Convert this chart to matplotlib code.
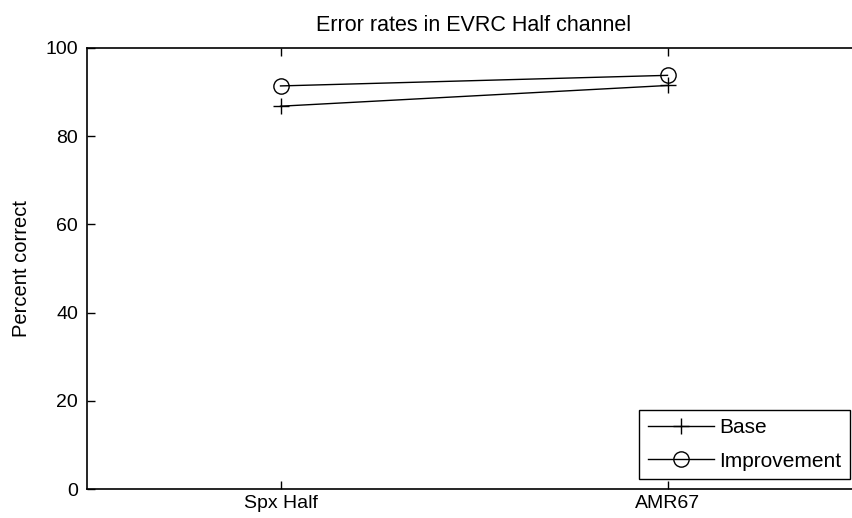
import matplotlib
matplotlib.use("Agg")
import matplotlib.pyplot as plt

categories = ["Spx Half", "AMR67"]
base = [86.8, 91.5]
improvement = [91.4, 93.8]
y_ticks = [0, 20, 40, 60, 80, 100]

plt.rcParams["font.family"] = ["Liberation Sans", "DejaVu Sans"]
plt.rcParams["font.size"] = 14
plt.rcParams["xtick.direction"] = "in"
plt.rcParams["ytick.direction"] = "in"

fig = plt.figure(figsize=(8.52, 5.18), dpi=100)
# axes run past the right edge of the figure, as in the cropped original
ax = fig.add_axes([87 / 852, 29 / 518, 774 / 852, 441 / 518])

x = list(range(1, len(categories) + 1))
ax.plot(x, base, color="black", linewidth=1, marker="+", markersize=12,
        markeredgewidth=1, label="Base")
ax.plot(x, improvement, color="black", linewidth=1, marker="o", markersize=11,
        markerfacecolor="none", markeredgewidth=1, label="Improvement")

ax.set_xlim(0.5, 2.5)
ax.set_ylim(0, 100)
ax.set_xticks(x)
ax.set_xticklabels(categories)
ax.set_yticks(y_ticks)
ax.tick_params(direction="in", length=6, width=1, top=True, right=True)
ax.tick_params(axis="x", pad=4)
ax.tick_params(axis="y", pad=6.5)
for s in ax.spines.values():
    s.set_linewidth(1.2)

ax.set_ylabel("Percent correct", labelpad=10, fontsize=14.5)
ax.set_title("Error rates in EVRC Half channel", pad=12, fontsize=15.5)

leg = ax.legend(loc="lower right", bbox_to_anchor=(850 / 852, 39 / 518),
                bbox_transform=fig.transFigure, fancybox=False, framealpha=1,
                edgecolor="black", fontsize=15, borderpad=0.4,
                handlelength=3.2, handletextpad=0.25, labelspacing=0.7,
                borderaxespad=0)
leg.get_frame().set_linewidth(1)

fig.savefig("out.png", dpi=100)
